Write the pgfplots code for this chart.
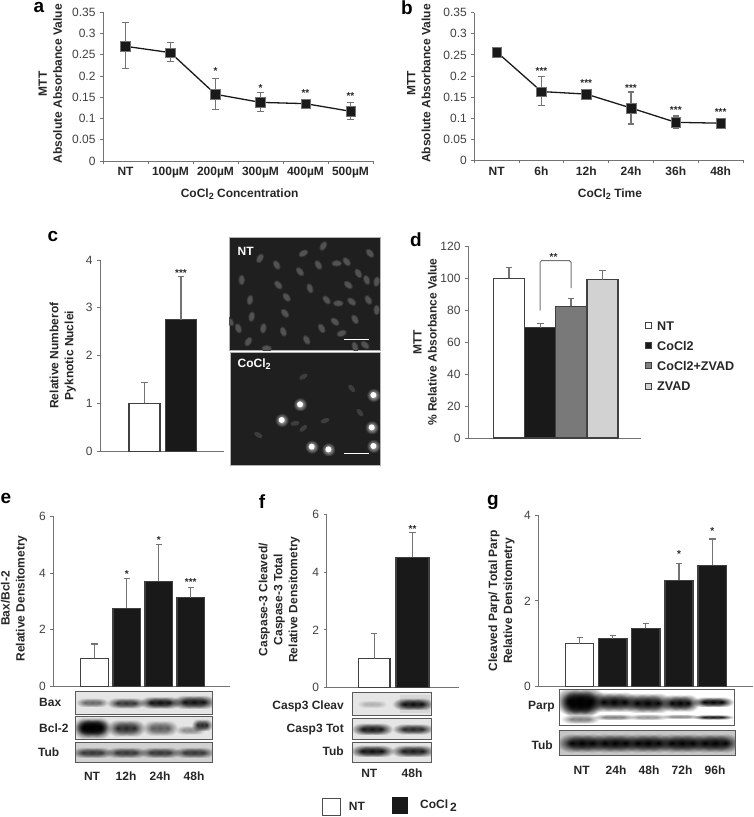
\documentclass[border=0pt]{standalone}
\usepackage{pgfplots}
\usepackage{fontspec}
\setmainfont{Liberation Sans}
\pgfplotsset{compat=1.18}
\usetikzlibrary{fadings}
\definecolor{axc}{gray}{0.45}
\definecolor{txc}{gray}{0.25}
\definecolor{lab}{gray}{0.15}
\definecolor{bk}{gray}{0.10}
\newcommand{\fs}{\fontsize{12}{15}\selectfont}
\tikzfading[name=soft, inner color=transparent!0, outer color=transparent!100]
\pgfplotsset{
 panel/.style={scale only axis, anchor=south west, clip=false, axis lines=left, axis line style={-,draw=axc,line width=0.9pt},
  tick align=outside, tick style={draw=axc,line width=0.8pt}, major tick length=3pt, minor tick length=3pt,
  ticklabel style={font=\fs,text=txc}, yticklabel style={xshift=-1pt}, /pgf/number format/assume math mode=true, enlargelimits=false, ymin=0,
  ylabel style={font=\fs\bfseries,text=lab,align=center,anchor=center},
  xlabel style={font=\fs\bfseries,text=lab,anchor=center},
  xticklabel style={font=\fs\bfseries,text=lab}},
 linep/.style={draw=bk,line width=1.3pt,mark=square*,mark size=4.8pt,mark options={fill=bk,draw=axc,line width=0.4pt},
  error bars/y dir=both,error bars/y explicit,error bars/error bar style={draw=axc,line width=1.1pt},
  error bars/error mark options={rotate=90,mark size=3.2pt,draw=axc,line width=1.1pt}},
 barp/.style n args={2}{ybar,bar width=#1pt,bar shift=0pt,fill=#2,draw=black!75,line width=1.2pt,
  error bars/y dir=plus,error bars/y explicit,error bars/error bar style={draw=axc,line width=1.1pt},
  error bars/error mark options={rotate=90,mark size=3.2pt,draw=axc,line width=1.1pt}},
}
\tikzset{st/.style={font=\fontsize{10}{10}\selectfont\bfseries,text=lab,inner sep=0pt},
 pl/.style={font=\fontsize{19}{19}\selectfont\bfseries,text=black,inner sep=0pt},
 bl/.style={font=\fs\bfseries,text=lab,inner sep=0pt},
 box/.style={draw=black!65,line width=0.9pt,fill=gray!20}}
% soft western-blot band: three overlapping soft ellipses
\newcommand{\band}[5]{%
 \fill[black!#5,path fading=soft] (#1-#3*1.5,#2-#4*1.6) rectangle (#1+#3*0.3,#2+#4*1.6);
 \fill[black!#5,path fading=soft] (#1-#3*0.9,#2-#4*1.6) rectangle (#1+#3*0.9,#2+#4*1.6);
 \fill[black!#5,path fading=soft] (#1-#3*0.3,#2-#4*1.6) rectangle (#1+#3*1.5,#2+#4*1.6);}
\newcommand{\blot}[5]{\fill[box] (#1,#2) rectangle (#3,#4);
 \begin{scope}\clip (#1,#2) rectangle (#3,#4); #5 \end{scope}
 \draw[draw=black!65,line width=0.9pt] (#1,#2) rectangle (#3,#4);}
\newcommand{\nuc}[3]{\fill[black!78,rotate around={#3:(#1,#2)}] (#1,#2) ellipse (5.4 and 3.4);\fill[black!68,rotate around={#3:(#1,#2)}] (#1,#2) ellipse (4.2 and 2.4);}
\newcommand{\bright}[2]{\fill[white,path fading=soft,opacity=0.8] (#1-7,#2-7) rectangle (#1+7,#2+7);\fill[white] (#1,#2) circle (3);}
\begin{document}
\begin{tikzpicture}[x=1pt,y=-1pt]
\path[use as bounding box] (0,0) rectangle (753,817);
% panel letters
\node[pl] at (39,7) {a};
\node[pl] at (407,8) {b};
\node[pl] at (53,236) {c};
\node[pl] at (416,240) {d};
\node[pl] at (6,498) {e};
\node[pl] at (262,502) {f};
\node[pl] at (493,502) {g};

% ---- a
\begin{axis}[panel, at={(103pt,-161pt)}, width=270pt, height=148.7pt, xmin=0, xmax=6, ymax=0.35,
 ytick={0,0.05,0.1,0.15,0.2,0.25,0.3,0.35}, /pgf/number format/fixed,
 xtick={0.5,1.5,2.5,3.5,4.5,5.5}, xticklabels={NT,100µM,200µM,300µM,400µM,500µM},
 minor xtick={0,1,2,3,4,5,6}, major x tick style={draw=none},
 xlabel={CoCl\raisebox{-0.35ex}{\fontsize{9}{9}\selectfont 2} Concentration},
 ylabel={MTT\\Absolute Absorbance Value},
 ylabel style={at={(axis description cs:-0.195,0.52)}},
 xlabel style={at={(axis description cs:0.506,-0.225)}}]
\addplot[linep] coordinates {(0.5,0.27) += (0,0.055) -= (0,0.052)
 (1.5,0.255) += (0,0.023) -= (0,0.020)
 (2.5,0.157) += (0,0.038) -= (0,0.035)
 (3.5,0.138) += (0,0.023) -= (0,0.021)
 (4.5,0.135) += (0,0.005) -= (0,0.005)
 (5.5,0.117) += (0,0.020) -= (0,0.019)};
\node[st] at (axis cs:2.5,0.212) {*};
\node[st] at (axis cs:3.5,0.172) {*};
\node[st] at (axis cs:4.5,0.161) {**};
\node[st] at (axis cs:5.5,0.153) {**};
\end{axis}

% ---- b
\begin{axis}[panel, at={(474.3pt,-160.3pt)}, width=268.7pt, height=147.6pt, xmin=0, xmax=6, ymax=0.35,
 ytick={0,0.05,0.1,0.15,0.2,0.25,0.3,0.35}, /pgf/number format/fixed,
 xtick={0.5,1.5,2.5,3.5,4.5,5.5}, xticklabels={NT,6h,12h,24h,36h,48h},
 minor xtick={0,1,2,3,4,5,6}, major x tick style={draw=none},
 xlabel={CoCl\raisebox{-0.35ex}{\fontsize{9}{9}\selectfont 2} Time},
 ylabel={MTT\\Absolute Absorbance Value},
 ylabel style={at={(axis description cs:-0.207,0.52)}},
 xlabel style={at={(axis description cs:0.505,-0.228)}}]
\addplot[linep] coordinates {(0.5,0.257) += (0,0.004) -= (0,0.004)
 (1.5,0.163) += (0,0.035) -= (0,0.033)
 (2.5,0.157) += (0,0.005) -= (0,0.005)
 (3.5,0.124) += (0,0.038) -= (0,0.038)
 (4.5,0.09) += (0,0.015) -= (0,0.015)
 (5.5,0.088) += (0,0.004) -= (0,0.004)};
\node[st] at (axis cs:1.5,0.212) {***};
\node[st] at (axis cs:2.5,0.184) {***};
\node[st] at (axis cs:3.5,0.172) {***};
\node[st] at (axis cs:4.5,0.118) {***};
\node[st] at (axis cs:5.5,0.115) {***};
\end{axis}

% ---- c
\begin{axis}[panel, at={(100pt,-451.3pt)}, width=124pt, height=191.3pt, xmin=100, xmax=224, ymax=4,
 ytick={0,1,2,3,4}, xtick=\empty,
 ylabel={Relative Numberof\\Pyknotic Nuclei},
 ylabel style={at={(axis description cs:-0.3,0.5)}}]
\addplot[barp={31}{white}] coordinates {(144.5,1) +- (0,0.43)};
\addplot[barp={31.5}{bk}] coordinates {(181,2.75) +- (0,0.9)};
\node[st] at (axis cs:181,3.73) {***};
\end{axis}
% micrographs
\fill[black!88,draw=gray!60,line width=0.7pt] (229,237.7) rectangle (380,350);
\fill[black!88,draw=gray!60,line width=0.7pt] (230,352.7) rectangle (380.5,465);
\begin{scope}
\clip (229,237.7) rectangle (380,350);
\begin{scope}[shift={(30,220)}]
\foreach \a/\b/\r in {690/115/60,820/100/30,880/78/60,740/135/-60,865/135/-60,920/130/0,950/125/-50,1020/100/-50,810/155/-50,985/160/-60,635/180/90,745/195/-50,840/205/-70,955/195/-40,1010/180/-70,1040/185/80,770/232/-50,660/240/80,890/240/-50,925/250/0,965/245/-40,1015/240/-60,765/280/-50,665/290/80,975/298/-60,915/305/-40,625/325/-70,700/325/80,760/335/-70,875/325/-60,935/340/20,830/360/-60,1040/270/90,655/365/60,600/305/-50,1005/375/-40,975/380/-70,710/385/0}
 {\pgfmathsetmacro{\px}{\a/3}\pgfmathsetmacro{\py}{\b/3}\nuc{\px}{\py}{\r}}
\end{scope}
\end{scope}
\begin{scope}
\clip (230,352.7) rectangle (380.5,465);
\begin{scope}[shift={(30,220)}]
\foreach \a/\b/\r in {820/470/30,965/505/-50,990/578/-50,685/645/-30,885/602/20,795/610/10,820/625/40}
 {\pgfmathsetmacro{\px}{\a/3}\pgfmathsetmacro{\py}{\b/3}\fill[black!76,rotate around={\r:(\px,\py)}] (\px,\py) ellipse (4.6 and 2.4);}
\foreach \a/\b in {810/553,755/600,1030/525,1025/622,1030/678,845/680,895/688}
 {\pgfmathsetmacro{\px}{\a/3}\pgfmathsetmacro{\py}{\b/3}\bright{\px}{\py}}
\end{scope}
\end{scope}
\node[font=\fs\bfseries,text=white,inner sep=0pt,anchor=west] at (237.5,251.5) {NT};
\node[font=\fs\bfseries,text=white,inner sep=0pt,anchor=west] at (237.5,364) {CoCl\raisebox{-0.35ex}{\fontsize{9}{9}\selectfont 2}};
\draw[white,line width=1pt] (344.3,339) -- (369.3,339);
\draw[white,line width=1pt] (344.3,453.5) -- (369.3,453.5);

% ---- d
\begin{axis}[panel, at={(468pt,-438pt)}, width=172.7pt, height=191.7pt, xmin=468, xmax=640.7, ymax=120,
 ytick={0,20,40,60,80,100,120}, xtick=\empty,
 ylabel={MTT\\\% Relative Absorbance Value},
 ylabel style={at={(axis description cs:-0.249,0.5)}}]
\addplot[barp={31.4}{white}] coordinates {(509,100) +- (0,6.5)};
\addplot[barp={31.4}{bk}] coordinates {(540.3,69) +- (0,2.5)};
\addplot[barp={30.5}{gray!95!black}] coordinates {(571,82.5) +- (0,5)};
\addplot[barp={31}{gray!35}] coordinates {(602.5,99) +- (0,6)};
\node[st] at (axis cs:553.5,113) {**};
\end{axis}
\draw[draw=axc,line width=1pt,rounded corners=1.5pt] (540,310.7) -- (540,260.7) -- (571,260.7) -- (571,288);
% legend d
\foreach \yy/\cc/\tt in {325.7/white/NT,345.5/bk/CoCl2,365.7/gray/CoCl2+ZVAD,386/gray!35/ZVAD}{
 \fill[fill=\cc,draw=black!75,line width=0.8pt] (645.5,\yy-3) rectangle (651.5,\yy+3);
 \node[bl,font=\fontsize{12.6}{15}\selectfont\bfseries,anchor=west] at (657,\yy) {\tt};}

% ---- e
\blot{75}{691.7}{212.7}{714}{\band{92}{702.5}{11}{3}{60}\band{126}{703}{13}{3.5}{80}\band{160}{702.5}{14}{4}{95}\band{194}{702}{15}{4.5}{95}}
\blot{75}{716.7}{212.7}{739.3}{\band{92}{728}{13}{7}{100}\band{92}{727}{11}{5}{100}\band{126}{728}{13}{5.5}{85}\band{160}{728}{12}{5}{65}\band{190}{730}{10}{3}{45}\band{202}{725}{7}{4}{85}}
\blot{75}{742.7}{212.7}{762.3}{\fill[gray!35] (75,742.7) rectangle (212.7,762.3);\band{92}{752.5}{14}{3.5}{80}\band{126}{752.5}{14}{3.5}{80}\band{160}{752.5}{14}{3.5}{80}\band{194}{752.5}{14}{3.5}{80}}
\node[bl,anchor=west] at (39,702) {Bax};
\node[bl,anchor=west] at (39,728) {Bcl-2};
\node[bl,anchor=west] at (38,752) {Tub};
\begin{axis}[panel, at={(53.3pt,-686.7pt)}, width=176.7pt, height=170.7pt, xmin=53.3, xmax=230, ymax=6,
 ytick={0,2,4,6}, xtick={92,126,160,194}, xticklabels={NT,12h,24h,48h}, major x tick style={draw=none},
 xticklabel style={yshift=-79pt},
 ylabel={Bax/Bcl-2\\Relative Densitometry},
 ylabel style={at={(axis description cs:-0.222,0.517)}}]
\addplot[barp={27.3}{white}] coordinates {(94.5,1) +- (0,0.5)};
\addplot[barp={27.3}{bk}] coordinates {(126.7,2.75) +- (0,1.05)};
\addplot[barp={27.3}{bk}] coordinates {(158.7,3.7) +- (0,1.3)};
\addplot[barp={27.3}{bk}] coordinates {(190.7,3.13) +- (0,0.37)};
\node[st] at (axis cs:126.7,3.96) {*};
\node[st] at (axis cs:158.7,5.16) {*};
\node[st] at (axis cs:190.7,3.68) {***};
\end{axis}

% ---- f
\blot{352.7}{692.7}{431}{715}{\fill[black!16] (400,695) rectangle (430,713);\band{372}{704}{10}{2.5}{30}\band{413}{704}{14}{4}{95}}
\blot{352.7}{718.3}{431}{739}{\band{372}{729}{14}{4}{92}\band{413}{729}{14}{3.5}{85}}
\blot{352.7}{742.7}{431}{762.7}{\band{372}{751}{15}{4}{95}\band{413}{751}{15}{4}{90}}
\node[bl,anchor=east] at (344,706) {Casp3 Cleav};
\node[bl,anchor=east] at (344,730) {Casp3 Tot};
\node[bl,anchor=east] at (344,751) {Tub};
\begin{axis}[panel, at={(326.7pt,-687.7pt)}, width=132.6pt, height=173.7pt, xmin=326.7, xmax=459.3, ymax=6,
 ytick={0,2,4,6}, xtick={369.3,412}, xticklabels={NT,48h}, major x tick style={draw=none},
 xticklabel style={yshift=-75pt},
 ylabel={Caspase-3 Cleaved/\\Caspase-3 Total\\Relative Densitometry},
 ylabel style={at={(axis description cs:-0.357,0.507)}}]
\addplot[barp={31.7}{white}] coordinates {(374.2,1) +- (0,0.87)};
\addplot[barp={33}{bk}] coordinates {(412.5,4.5) +- (0,0.87)};
\node[st] at (axis cs:412.5,5.48) {**};
\end{axis}
\draw[draw=black!70,line width=1pt,fill=white] (322.3,798) rectangle (340,815);
\fill[bk] (391.7,797) rectangle (408,814);
\node[bl,anchor=west] at (348.7,806) {NT};
\node[bl,anchor=west] at (420,806) {CoCl\kern2pt\raisebox{-0.5ex}{2}};

% ---- g
\blot{559.3}{689.3}{734}{725.7}{\fill[white] (559.3,689.3) rectangle (734,725.7);\band{580}{701}{17}{9}{100}\band{580}{704}{13}{8}{100}\band{614}{702}{17}{6.5}{100}\band{647.5}{703}{17}{6.5}{100}\band{680}{703}{13}{5.5}{100}\band{713}{702}{14}{3.4}{100}\band{580}{719}{13}{3}{50}\band{614}{717}{14}{2}{50}\band{647.5}{717}{14}{2}{40}\band{680}{716.5}{13}{1.6}{45}\band{713}{717}{14}{1.6}{90}}
\blot{559.3}{730.7}{735}{755.7}{\fill[gray!45] (559.3,730.7) rectangle (735,755.7);\band{582}{743}{17}{6}{100}\band{615}{743}{17}{6}{100}\band{648}{743}{17}{6}{100}\band{682}{743}{17}{6}{100}\band{715}{743}{17}{6}{100}}
\node[bl,anchor=east] at (555,707) {Parp};
\node[bl,anchor=east] at (553,745) {Tub};
\begin{axis}[panel, at={(538.3pt,-686.7pt)}, width=214.4pt, height=171.7pt, xmin=538.3, xmax=752.7, ymax=4,
 ytick={0,2,4}, xtick={581.7,616,649,682,715}, xticklabels={NT,24h,48h,72h,96h}, major x tick style={draw=none},
 xticklabel style={yshift=-73pt},
 ylabel={Cleaved Parp/ Total Parp\\Relative Densitometry},
 ylabel style={at={(axis description cs:-0.171,0.5)}}]
\addplot[barp={28}{white}] coordinates {(579.7,1) +- (0,0.14)};
\addplot[barp={28.3}{bk}] coordinates {(612.8,1.12) +- (0,0.08)};
\addplot[barp={28.3}{bk}] coordinates {(645.8,1.36) +- (0,0.12)};
\addplot[barp={28}{bk}] coordinates {(679,2.48) +- (0,0.4)};
\addplot[barp={28.7}{bk}] coordinates {(712.3,2.83) +- (0,0.61)};
\node[st] at (axis cs:679,3.09) {*};
\node[st] at (axis cs:712.3,3.63) {*};
\end{axis}
\end{tikzpicture}
\end{document}
